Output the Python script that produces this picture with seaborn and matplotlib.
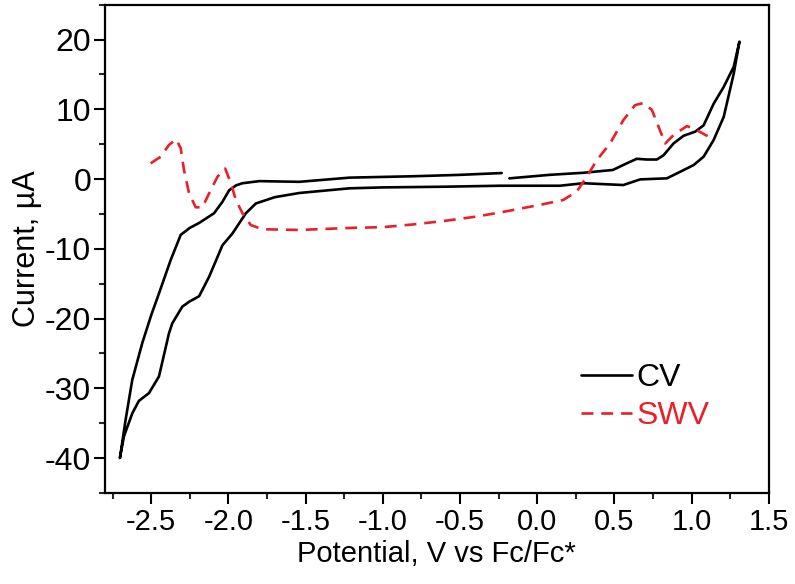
import matplotlib
matplotlib.use("Agg")
import matplotlib.pyplot as plt
import pandas as pd
import seaborn as sns
from matplotlib.ticker import MultipleLocator

# CV loop: start near -0.2 V, sweep to +1.3 V, back to -2.7 V, back to start
cv_potential = [
    -0.18, 0.08, 0.30, 0.49, 0.58, 0.645, 0.71, 0.775, 0.818, 0.883, 0.948,
    1.024, 1.078, 1.143, 1.208, 1.273, 1.31,
    1.273, 1.208, 1.143, 1.078, 1.013, 0.927, 0.840, 0.667, 0.558, 0.299,
    0.147, -0.242, -0.6, -1.0, -1.216, -1.541, -1.70, -1.822, -1.887, -1.974,
    -2.039, -2.125, -2.19, -2.255, -2.299, -2.364, -2.385, -2.45, -2.515,
    -2.580, -2.623, -2.677, -2.703,
    -2.666, -2.623, -2.558, -2.50, -2.45, -2.374, -2.309, -2.25, -2.19,
    -2.093, -2.04, -1.995, -1.95, -1.909, -1.80, -1.541, -1.216, -0.8, -0.5,
    -0.23,
]
cv_current = [
    0.1, 0.6, 0.9, 1.3, 2.25, 2.9, 2.8, 2.8, 3.4, 5.1, 6.2,
    6.8, 7.7, 10.8, 13.2, 16.1, 19.7,
    15.1, 8.9, 5.6, 3.2, 2.0, 1.05, 0.1, -0.05, -0.86, -0.6,
    -0.96, -0.96, -1.1, -1.2, -1.33, -2.0, -2.6, -3.5, -4.9, -7.8,
    -9.5, -14.0, -16.8, -17.6, -18.3, -20.7, -22.1, -28.3, -30.7,
    -31.8, -33.6, -36.9, -40.0,
    -34.5, -28.8, -23.5, -19.5, -16.4, -11.6, -8.0, -7.0, -6.3,
    -4.9, -3.3, -1.6, -0.9, -0.6, -0.3, -0.4, 0.2, 0.4, 0.6,
    0.86,
]

swv_potential = [
    -2.504, -2.439, -2.385, -2.338, -2.309, -2.288, -2.255, -2.212, -2.169,
    -2.125, -2.071, -2.021, -1.984, -1.952, -1.909, -1.855, -1.779, -1.541,
    -1.2, -1.0, -0.8, -0.6, -0.4, -0.242, 0.018, 0.169, 0.256, 0.321, 0.386,
    0.472, 0.558, 0.634, 0.688, 0.743, 0.786, 0.829, 0.883, 0.97, 1.035, 1.132,
]
swv_current = [
    2.25, 3.2, 4.9, 5.7, 4.4, 1.3, -2.05, -4.05, -4.05,
    -2.05, 0.33, 1.5, -0.6, -3.0, -4.9, -6.6, -7.2, -7.3,
    -7.0, -6.9, -6.5, -6.0, -5.4, -4.8, -3.7, -3.0, -1.8, 0.33, 2.7,
    5.1, 8.45, 10.6, 10.9, 9.9, 7.5, 5.1, 6.3, 7.6, 7.0, 5.8,
]

series_labels = ["CV", "SWV"]
x_ticks = [-2.5, -2.0, -1.5, -1.0, -0.5, 0.0, 0.5, 1.0, 1.5]
y_ticks = [-40, -30, -20, -10, 0, 10, 20]

red = "#e8202a"

sns.set_style("white")
plt.rcParams["font.family"] = ["Liberation Sans", "DejaVu Sans"]
plt.rcParams["text.color"] = "black"
plt.rcParams["axes.labelcolor"] = "black"

fig = plt.figure(figsize=(7.95, 5.84), dpi=100)
ax = fig.add_axes([0.132, 0.156, 0.835, 0.836])

cv = pd.DataFrame({"E": cv_potential, "I": cv_current})
swv = pd.DataFrame({"E": swv_potential, "I": swv_current})

sns.lineplot(data=cv, x="E", y="I", sort=False, estimator=None, ax=ax,
             color="black", linewidth=1.9, label=series_labels[0])
sns.lineplot(data=swv, x="E", y="I", sort=False, estimator=None, ax=ax,
             color=red, linewidth=1.9, label=series_labels[1])
ax.lines[1].set_dashes([4.5, 3])

ax.set_xlim(-2.8, 1.5)
ax.set_ylim(-45, 25)
ax.set_xticks(x_ticks)
ax.set_yticks(y_ticks)
ax.xaxis.set_minor_locator(MultipleLocator(0.25))
ax.yaxis.set_minor_locator(MultipleLocator(5))
ax.set_xticklabels([f"{t:.1f}" for t in x_ticks])
ax.set_yticklabels([str(t) for t in y_ticks])

ax.tick_params(which="major", direction="out", length=8, width=1.5,
               colors="black")
ax.tick_params(which="minor", direction="out", length=4.5, width=1.5)
ax.tick_params(axis="x", labelsize=21, pad=3)
ax.tick_params(axis="y", labelsize=23, pad=2)
ax.tick_params(bottom=True, left=True, which="both")
for s in ax.spines.values():
    s.set_linewidth(1.6)
    s.set_color("black")

ax.set_xlabel("Potential, V vs Fc/Fc*", fontsize=21, labelpad=3, color="black")
ax.set_ylabel("Current, \u00b5A", fontsize=22, labelpad=2, color="black")

leg = ax.legend(loc="lower right", bbox_to_anchor=(0.93, 0.10), frameon=False,
                fontsize=23, handlelength=1.6, handletextpad=0.15,
                labelspacing=0.25, labelcolor="linecolor", borderaxespad=0)

fig.savefig("out.png", dpi=100)
